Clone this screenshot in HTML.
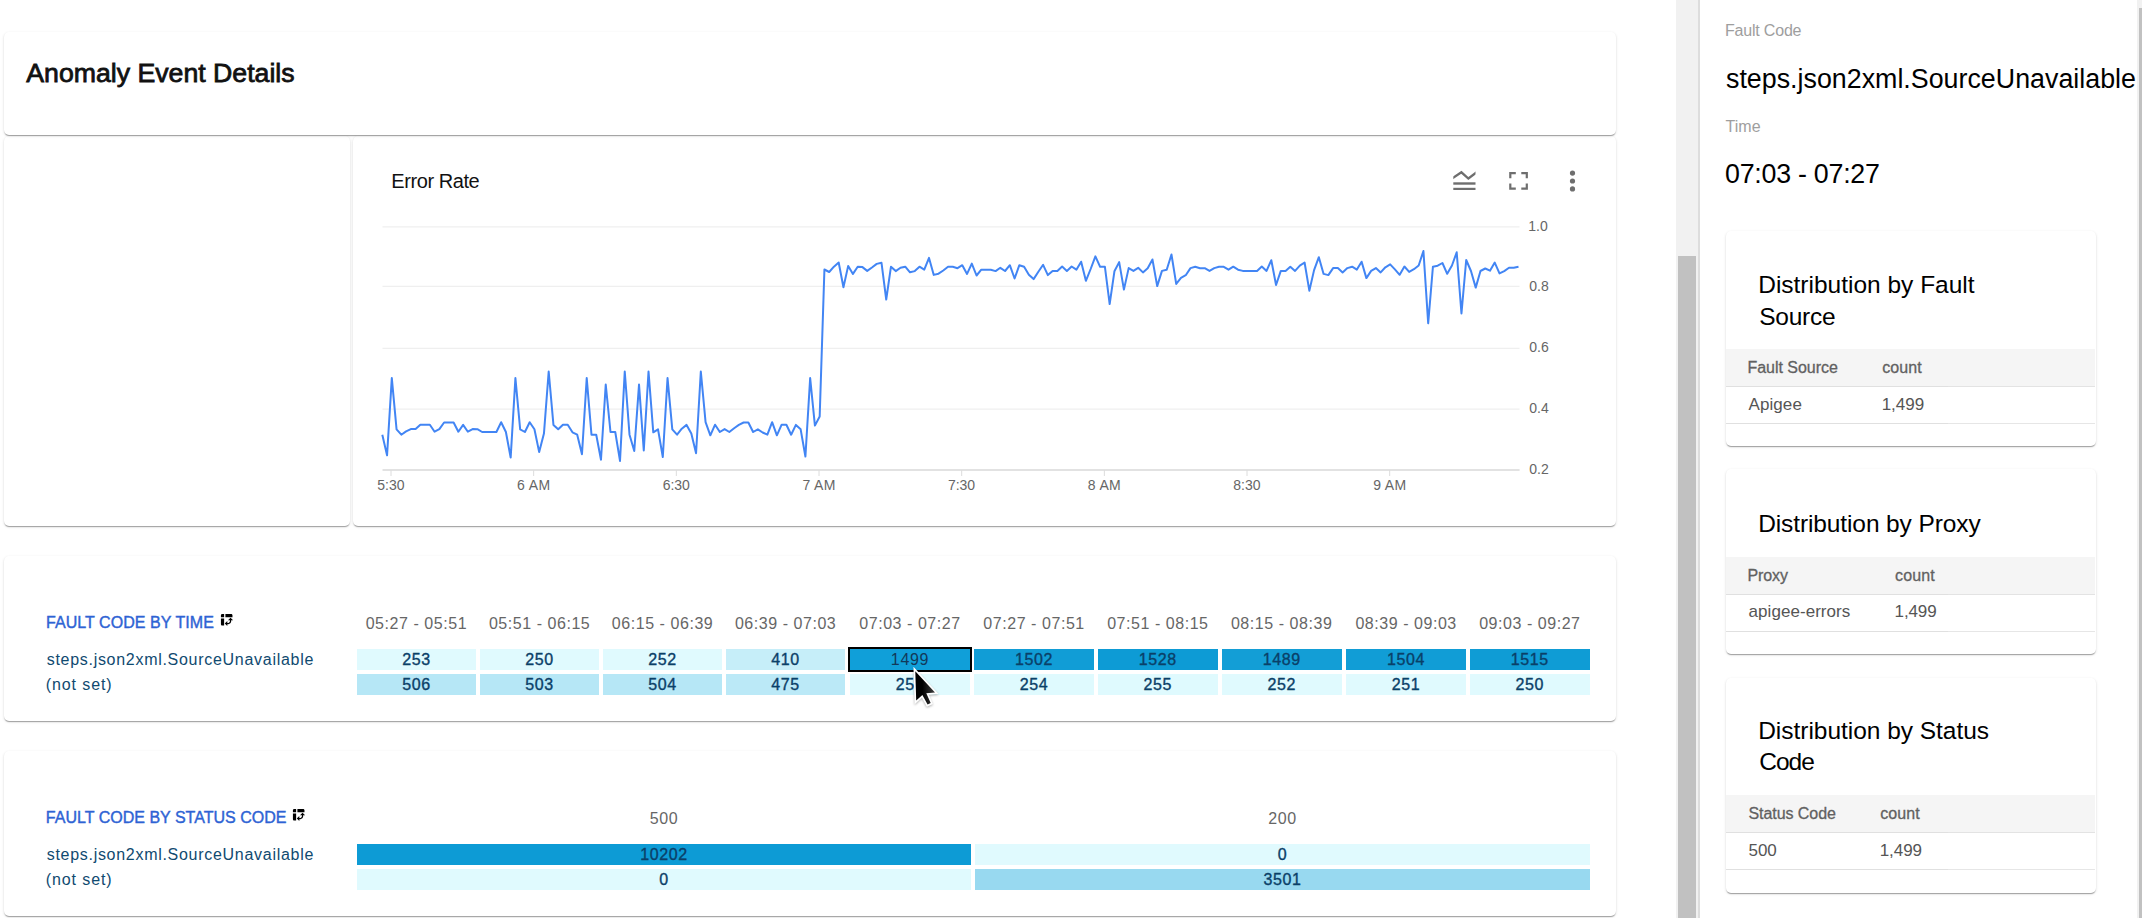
<!DOCTYPE html>
<html><head><meta charset="utf-8"><title>Anomaly Event Details</title><style>
*{box-sizing:border-box;margin:0;padding:0}
html,body{width:2142px;height:918px;overflow:hidden;background:#fff}
body{position:relative;font-family:"Liberation Sans",sans-serif;color:#000}
.t{position:absolute;white-space:pre}
.card{position:absolute;background:#fff;border-radius:5px;box-shadow:0 2px 1px -1px rgba(0,0,0,.2),0 1px 1px 0 rgba(0,0,0,.14),0 1px 3px 0 rgba(0,0,0,.12)}
svg{position:absolute;left:0;top:0}
</style></head>
<body>
<div class="card" style="left:4px;top:136px;width:346px;height:390px;"></div>
<div class="card" style="left:353px;top:136px;width:1263px;height:390px;"></div>
<div class="card" style="left:4px;top:32px;width:1612px;height:103px;"></div>
<div class="card" style="left:4px;top:556px;width:1612px;height:165px;"></div>
<div class="card" style="left:4px;top:751px;width:1612px;height:165px;"></div>
<div class="t" style="left:26.30px;top:60px;font-size:26.7px;line-height:26.7px;color:#111;letter-spacing:-0.007px;-webkit-text-stroke:0.8px #111;">Anomaly Event Details</div>
<div class="t" style="left:391.30px;top:171px;font-size:20px;line-height:20px;color:#111;letter-spacing:-0.425px;">Error Rate</div>
<svg width="2142" height="918" viewBox="0 0 2142 918">
<defs><clipPath id="zz"><rect x="1453.3" y="165" width="22.2" height="20"/></clipPath></defs>
<g fill="none" stroke="#6e6e6e" stroke-width="2.3" stroke-linejoin="miter" stroke-linecap="butt" clip-path="url(#zz)">
<polyline points="1450.5,179.5 1461.4,172.3 1468.4,178.5 1478.4,171"/>
</g>
<g fill="#6e6e6e">
<rect x="1453.3" y="182.3" width="22.2" height="2.4"/>
<rect x="1453.3" y="187.8" width="22.2" height="2.2"/>
<path d="M1509.2 172h6.6v2.2h-4.4v4h-2.2z M1527.9 172h-6.6v2.2h4.4v4h2.2z M1509.2 189.8h6.6v-2.2h-4.4v-4h-2.2z M1527.9 189.8h-6.6v-2.2h4.4v-4h2.2z"/>
<circle cx="1572.5" cy="173.1" r="2.6"/><circle cx="1572.5" cy="181" r="2.6"/><circle cx="1572.5" cy="188.9" r="2.6"/>
</g>
</svg>
<svg width="2142" height="918" viewBox="0 0 2142 918">
<line x1="382.5" y1="226.9" x2="1519.5" y2="226.9" stroke="#ebebeb" stroke-width="1"/><line x1="382.5" y1="286.3" x2="1519.5" y2="286.3" stroke="#ebebeb" stroke-width="1"/><line x1="382.5" y1="348.3" x2="1519.5" y2="348.3" stroke="#ebebeb" stroke-width="1"/><line x1="382.5" y1="409.1" x2="1519.5" y2="409.1" stroke="#ebebeb" stroke-width="1"/>
<line x1="382.5" y1="469.9" x2="1519.6" y2="469.9" stroke="#d9d9d9" stroke-width="1.5"/>
<line x1="391.0" y1="470" x2="391.0" y2="476" stroke="#dcdcdc" stroke-width="1"/><line x1="533.67" y1="470" x2="533.67" y2="476" stroke="#dcdcdc" stroke-width="1"/><line x1="676.34" y1="470" x2="676.34" y2="476" stroke="#dcdcdc" stroke-width="1"/><line x1="819.01" y1="470" x2="819.01" y2="476" stroke="#dcdcdc" stroke-width="1"/><line x1="961.68" y1="470" x2="961.68" y2="476" stroke="#dcdcdc" stroke-width="1"/><line x1="1104.35" y1="470" x2="1104.35" y2="476" stroke="#dcdcdc" stroke-width="1"/><line x1="1247.02" y1="470" x2="1247.02" y2="476" stroke="#dcdcdc" stroke-width="1"/><line x1="1389.69" y1="470" x2="1389.69" y2="476" stroke="#dcdcdc" stroke-width="1"/>
<polyline points="382.30,434.7 387.05,455.4 391.81,378.1 396.56,429.3 401.32,434.7 406.07,431.4 410.82,429.1 415.58,429.1 420.33,424.7 425.09,424.7 429.84,424.7 434.59,431.7 439.35,429.1 444.10,422.5 448.86,422.5 453.61,422.5 458.36,431.7 463.12,424.9 467.87,431.7 472.63,429.1 477.38,429.2 482.13,432 486.89,432 491.64,432 496.40,432 501.15,422.2 505.90,432 510.66,457.6 515.41,378.1 520.17,429.3 524.92,432 529.67,422.2 534.43,429.3 539.18,452.1 543.94,433.6 548.69,371.5 553.44,424.9 558.20,429.3 562.95,424.7 567.71,424.7 572.46,432.3 577.21,434.7 581.97,454.3 586.72,378.1 591.48,434.7 596.23,434.7 600.98,459.8 605.74,384.6 610.49,432 615.25,432 620.00,460.9 624.75,371.5 629.51,434.7 634.26,451 639.02,384.6 643.77,450.5 648.52,371.5 653.28,432.3 658.03,429.3 662.79,457 667.54,378.1 672.29,429.3 677.05,434.7 681.80,428.7 686.56,424.9 691.31,433.6 696.06,453.2 700.82,371.5 705.57,422.2 710.33,435.3 715.08,424.7 719.83,432 724.59,429.1 729.34,432 734.10,428.2 738.85,424.9 743.60,422.5 748.36,422.5 753.11,432 757.87,429.3 762.62,432.5 767.37,434.7 772.13,422.2 776.88,435.3 781.64,424.7 786.39,424.7 791.14,434.7 795.90,424.9 800.65,429.3 805.41,456.5 810.16,378.1 814.91,425.6 819.67,416.5 824.42,269.5 829.18,272 833.93,266.7 838.68,262.5 843.44,287.3 848.19,265.9 852.95,273.9 857.70,266.8 862.45,267.1 867.21,270.9 871.96,267.5 876.72,263.9 881.47,262.7 886.22,299.5 890.98,266.7 895.73,271.1 900.49,267.8 905.24,266.7 909.99,272.3 914.75,271.1 919.50,266.7 924.26,269.6 929.01,257.9 933.76,274.9 938.52,273.7 943.27,270.5 948.03,266.8 952.78,266.8 957.53,268.2 962.29,265.2 967.04,273.9 971.80,263.6 976.55,275.5 981.30,269.7 986.06,269.7 990.81,269.7 995.57,271.1 1000.32,267.8 1005.07,271.0 1009.83,265.2 1014.58,278.5 1019.34,265.2 1024.09,266.7 1028.84,274.7 1033.60,279.1 1038.35,271.7 1043.11,264.8 1047.86,275.1 1052.61,270.9 1057.37,270.9 1062.12,266.5 1066.88,270.9 1071.63,266.5 1076.38,269.7 1081.14,261.7 1085.89,280.8 1090.65,269 1095.40,256.4 1100.15,266.8 1104.91,266.8 1109.66,304.1 1114.42,271.3 1119.17,262.1 1123.92,289.6 1128.68,268.1 1133.43,270.9 1138.19,267.8 1142.94,272.4 1147.69,268.2 1152.45,259.5 1157.20,286.1 1161.96,270.9 1166.71,269.7 1171.46,254.5 1176.22,283.9 1180.97,277.8 1185.73,275.2 1190.48,268.1 1195.23,266.8 1199.99,268.2 1204.74,268.2 1209.50,270.9 1214.25,268.1 1219.00,266.8 1223.76,266.8 1228.51,269.7 1233.27,266.7 1238.02,269.7 1242.77,270.9 1247.53,270.9 1252.28,270.9 1257.04,270.9 1261.79,266.5 1266.54,270.9 1271.30,260.2 1276.05,285 1280.81,270.9 1285.56,270.9 1290.31,266.7 1295.07,270.9 1299.82,265.6 1304.58,262.5 1309.33,290.7 1314.08,270.1 1318.84,257.2 1323.59,273.9 1328.35,275.1 1333.10,268.1 1337.85,268.1 1342.61,272.4 1347.36,268.1 1352.12,266.7 1356.87,269.6 1361.62,261.7 1366.38,278.1 1371.13,270.9 1375.89,268.1 1380.64,272.4 1385.39,267.3 1390.15,264.4 1394.90,269.4 1399.66,274.8 1404.41,266.5 1409.16,271.9 1413.92,269.2 1418.67,265.5 1423.43,251 1428.18,323.3 1432.93,266.7 1437.69,265.7 1442.44,263 1447.20,273.8 1451.95,265.5 1456.70,252.3 1461.46,313.5 1466.21,260 1470.97,271 1475.72,287.6 1480.47,271 1485.23,268.5 1489.98,270.7 1494.74,262.6 1499.49,273.4 1504.24,271.1 1509.00,267.8 1513.75,267.8 1518.51,266.8" fill="none" stroke="#4285f4" stroke-width="2" stroke-linejoin="round"/>
</svg>
<div class="t" style="left:1528.30px;top:219px;font-size:14px;line-height:14px;color:#666;">1.0</div>
<div class="t" style="left:1529.30px;top:279px;font-size:14px;line-height:14px;color:#666;">0.8</div>
<div class="t" style="left:1529.30px;top:340px;font-size:14px;line-height:14px;color:#666;">0.6</div>
<div class="t" style="left:1529.30px;top:401px;font-size:14px;line-height:14px;color:#666;">0.4</div>
<div class="t" style="left:1529.30px;top:462px;font-size:14px;line-height:14px;color:#666;">0.2</div>
<div class="t" style="left:377.30px;top:478px;font-size:14px;line-height:14px;color:#666;letter-spacing:-0.021px;">5:30</div>
<div class="t" style="left:517.12px;top:478px;font-size:14px;line-height:14px;color:#666;letter-spacing:0.362px;">6 AM</div>
<div class="t" style="left:662.64px;top:478px;font-size:14px;line-height:14px;color:#666;letter-spacing:-0.021px;">6:30</div>
<div class="t" style="left:802.46px;top:478px;font-size:14px;line-height:14px;color:#666;letter-spacing:0.362px;">7 AM</div>
<div class="t" style="left:947.98px;top:478px;font-size:14px;line-height:14px;color:#666;letter-spacing:-0.021px;">7:30</div>
<div class="t" style="left:1087.80px;top:478px;font-size:14px;line-height:14px;color:#666;letter-spacing:0.362px;">8 AM</div>
<div class="t" style="left:1233.32px;top:478px;font-size:14px;line-height:14px;color:#666;letter-spacing:-0.021px;">8:30</div>
<div class="t" style="left:1373.14px;top:478px;font-size:14px;line-height:14px;color:#666;letter-spacing:0.362px;">9 AM</div>
<div class="t" style="left:46.00px;top:615px;font-size:16px;line-height:16px;color:#2e63d4;letter-spacing:0.056px;-webkit-text-stroke:0.4px #2e63d4;">FAULT CODE BY TIME</div>
<svg style="left:219.1px;top:612px" width="15.4" height="15.4" viewBox="0 0 24 24"><path fill="#000" d="M10 8h11V5c0-1.1-.9-2-2-2h-9v5zM3 8h5V3H5c-1.1 0-2 .9-2 2v3zm2 13h3V10H3v9c0 1.1.9 2 2 2zm8 1l-4-4 4-4zm1-9l4-4 4 4zm.58 6H13v-2h1.58c1.33 0 2.42-1.08 2.42-2.42V13h2v1.58c0 2.44-1.98 4.42-4.42 4.42z"/></svg>
<div class="t" style="left:46.70px;top:652px;font-size:16px;line-height:16px;color:#104a70;letter-spacing:0.711px;">steps.json2xml.SourceUnavailable</div>
<div class="t" style="left:45.70px;top:677px;font-size:16px;line-height:16px;color:#104a70;letter-spacing:0.905px;">(not set)</div>
<div class="t" style="left:365.68px;top:616px;font-size:16px;line-height:16px;color:#666;letter-spacing:0.550px;">05:27 - 05:51</div>
<div style="position:absolute;left:356.90px;top:649.20px;width:119.00px;height:20.70px;background:#e0fafe;"></div>
<div class="t" style="left:402.15px;top:652px;font-size:16px;line-height:16px;color:#0a4068;letter-spacing:0.600px;-webkit-text-stroke:0.35px #0a4068;">253</div>
<div style="position:absolute;left:356.90px;top:674.10px;width:119.00px;height:20.70px;background:#b6e7f6;"></div>
<div class="t" style="left:402.15px;top:677px;font-size:16px;line-height:16px;color:#0a4068;letter-spacing:0.600px;-webkit-text-stroke:0.35px #0a4068;">506</div>
<div class="t" style="left:488.88px;top:616px;font-size:16px;line-height:16px;color:#666;letter-spacing:0.550px;">05:51 - 06:15</div>
<div style="position:absolute;left:480.10px;top:649.20px;width:119.00px;height:20.70px;background:#e0fafe;"></div>
<div class="t" style="left:525.35px;top:652px;font-size:16px;line-height:16px;color:#0a4068;letter-spacing:0.600px;-webkit-text-stroke:0.35px #0a4068;">250</div>
<div style="position:absolute;left:480.10px;top:674.10px;width:119.00px;height:20.70px;background:#b6e7f6;"></div>
<div class="t" style="left:525.35px;top:677px;font-size:16px;line-height:16px;color:#0a4068;letter-spacing:0.600px;-webkit-text-stroke:0.35px #0a4068;">503</div>
<div class="t" style="left:611.83px;top:616px;font-size:16px;line-height:16px;color:#666;letter-spacing:0.550px;">06:15 - 06:39</div>
<div style="position:absolute;left:603.10px;top:649.20px;width:118.90px;height:20.70px;background:#e0fafe;"></div>
<div class="t" style="left:648.30px;top:652px;font-size:16px;line-height:16px;color:#0a4068;letter-spacing:0.600px;-webkit-text-stroke:0.35px #0a4068;">252</div>
<div style="position:absolute;left:603.10px;top:674.10px;width:118.90px;height:20.70px;background:#b6e7f6;"></div>
<div class="t" style="left:648.30px;top:677px;font-size:16px;line-height:16px;color:#0a4068;letter-spacing:0.600px;-webkit-text-stroke:0.35px #0a4068;">504</div>
<div class="t" style="left:734.88px;top:616px;font-size:16px;line-height:16px;color:#666;letter-spacing:0.550px;">06:39 - 07:03</div>
<div style="position:absolute;left:726.00px;top:649.20px;width:119.20px;height:20.70px;background:#c6eef9;"></div>
<div class="t" style="left:771.35px;top:652px;font-size:16px;line-height:16px;color:#0a4068;letter-spacing:0.600px;-webkit-text-stroke:0.35px #0a4068;">410</div>
<div style="position:absolute;left:726.00px;top:674.10px;width:119.20px;height:20.70px;background:#bbe9f7;"></div>
<div class="t" style="left:771.35px;top:677px;font-size:16px;line-height:16px;color:#0a4068;letter-spacing:0.600px;-webkit-text-stroke:0.35px #0a4068;">475</div>
<div class="t" style="left:859.28px;top:616px;font-size:16px;line-height:16px;color:#666;letter-spacing:0.550px;">07:03 - 07:27</div>
<div style="position:absolute;left:848.20px;top:647.00px;width:123.70px;height:25.00px;background:#109fd9;border:2px solid #000;"></div>
<div class="t" style="left:890.80px;top:652px;font-size:16px;line-height:16px;color:#12395a;letter-spacing:0.700px;">1499</div>
<div style="position:absolute;left:850.00px;top:674.10px;width:120.00px;height:20.70px;background:#e0fafe;"></div>
<div class="t" style="left:895.75px;top:677px;font-size:16px;line-height:16px;color:#0a4068;letter-spacing:0.600px;-webkit-text-stroke:0.35px #0a4068;">251</div>
<div class="t" style="left:983.33px;top:616px;font-size:16px;line-height:16px;color:#666;letter-spacing:0.550px;">07:27 - 07:51</div>
<div style="position:absolute;left:974.10px;top:649.20px;width:119.90px;height:20.70px;background:#119dd6;"></div>
<div class="t" style="left:1015.05px;top:652px;font-size:16px;line-height:16px;color:#0a4068;letter-spacing:0.600px;-webkit-text-stroke:0.35px #0a4068;">1502</div>
<div style="position:absolute;left:974.10px;top:674.10px;width:119.90px;height:20.70px;background:#dffafe;"></div>
<div class="t" style="left:1019.80px;top:677px;font-size:16px;line-height:16px;color:#0a4068;letter-spacing:0.600px;-webkit-text-stroke:0.35px #0a4068;">254</div>
<div class="t" style="left:1107.13px;top:616px;font-size:16px;line-height:16px;color:#666;letter-spacing:0.550px;">07:51 - 08:15</div>
<div style="position:absolute;left:1097.90px;top:649.20px;width:119.90px;height:20.70px;background:#0d9bd5;"></div>
<div class="t" style="left:1138.85px;top:652px;font-size:16px;line-height:16px;color:#0a4068;letter-spacing:0.600px;-webkit-text-stroke:0.35px #0a4068;">1528</div>
<div style="position:absolute;left:1097.90px;top:674.10px;width:119.90px;height:20.70px;background:#dffafe;"></div>
<div class="t" style="left:1143.60px;top:677px;font-size:16px;line-height:16px;color:#0a4068;letter-spacing:0.600px;-webkit-text-stroke:0.35px #0a4068;">255</div>
<div class="t" style="left:1230.93px;top:616px;font-size:16px;line-height:16px;color:#666;letter-spacing:0.550px;">08:15 - 08:39</div>
<div style="position:absolute;left:1221.70px;top:649.20px;width:119.90px;height:20.70px;background:#139ed6;"></div>
<div class="t" style="left:1262.65px;top:652px;font-size:16px;line-height:16px;color:#0a4068;letter-spacing:0.600px;-webkit-text-stroke:0.35px #0a4068;">1489</div>
<div style="position:absolute;left:1221.70px;top:674.10px;width:119.90px;height:20.70px;background:#e0fafe;"></div>
<div class="t" style="left:1267.40px;top:677px;font-size:16px;line-height:16px;color:#0a4068;letter-spacing:0.600px;-webkit-text-stroke:0.35px #0a4068;">252</div>
<div class="t" style="left:1355.38px;top:616px;font-size:16px;line-height:16px;color:#666;letter-spacing:0.550px;">08:39 - 09:03</div>
<div style="position:absolute;left:1346.00px;top:649.20px;width:120.20px;height:20.70px;background:#119dd6;"></div>
<div class="t" style="left:1387.10px;top:652px;font-size:16px;line-height:16px;color:#0a4068;letter-spacing:0.600px;-webkit-text-stroke:0.35px #0a4068;">1504</div>
<div style="position:absolute;left:1346.00px;top:674.10px;width:120.20px;height:20.70px;background:#e0fafe;"></div>
<div class="t" style="left:1391.85px;top:677px;font-size:16px;line-height:16px;color:#0a4068;letter-spacing:0.600px;-webkit-text-stroke:0.35px #0a4068;">251</div>
<div class="t" style="left:1479.13px;top:616px;font-size:16px;line-height:16px;color:#666;letter-spacing:0.550px;">09:03 - 09:27</div>
<div style="position:absolute;left:1469.80px;top:649.20px;width:120.10px;height:20.70px;background:#0f9cd5;"></div>
<div class="t" style="left:1510.85px;top:652px;font-size:16px;line-height:16px;color:#0a4068;letter-spacing:0.600px;-webkit-text-stroke:0.35px #0a4068;">1515</div>
<div style="position:absolute;left:1469.80px;top:674.10px;width:120.10px;height:20.70px;background:#e0fafe;"></div>
<div class="t" style="left:1515.60px;top:677px;font-size:16px;line-height:16px;color:#0a4068;letter-spacing:0.600px;-webkit-text-stroke:0.35px #0a4068;">250</div>
<div class="t" style="left:45.80px;top:810px;font-size:16px;line-height:16px;color:#2e63d4;letter-spacing:0.015px;-webkit-text-stroke:0.4px #2e63d4;">FAULT CODE BY STATUS CODE</div>
<svg style="left:291.1px;top:807.3px" width="15.4" height="15.4" viewBox="0 0 24 24"><path fill="#000" d="M10 8h11V5c0-1.1-.9-2-2-2h-9v5zM3 8h5V3H5c-1.1 0-2 .9-2 2v3zm2 13h3V10H3v9c0 1.1.9 2 2 2zm8 1l-4-4 4-4zm1-9l4-4 4 4zm.58 6H13v-2h1.58c1.33 0 2.42-1.08 2.42-2.42V13h2v1.58c0 2.44-1.98 4.42-4.42 4.42z"/></svg>
<div class="t" style="left:46.70px;top:847px;font-size:16px;line-height:16px;color:#104a70;letter-spacing:0.711px;">steps.json2xml.SourceUnavailable</div>
<div class="t" style="left:45.70px;top:872px;font-size:16px;line-height:16px;color:#104a70;letter-spacing:0.905px;">(not set)</div>
<div class="t" style="left:649.83px;top:811px;font-size:16px;line-height:16px;color:#666;letter-spacing:0.550px;">500</div>
<div style="position:absolute;left:357.00px;top:843.90px;width:614.00px;height:21.00px;background:#0d9bd5;"></div>
<div class="t" style="left:640.25px;top:847px;font-size:16px;line-height:16px;color:#0a4068;letter-spacing:0.600px;-webkit-text-stroke:0.35px #0a4068;">10202</div>
<div style="position:absolute;left:357.00px;top:868.80px;width:614.00px;height:21.00px;background:#e0fafe;"></div>
<div class="t" style="left:659.25px;top:872px;font-size:16px;line-height:16px;color:#0a4068;letter-spacing:0.600px;-webkit-text-stroke:0.35px #0a4068;">0</div>
<div class="t" style="left:1268.33px;top:811px;font-size:16px;line-height:16px;color:#666;letter-spacing:0.550px;">200</div>
<div style="position:absolute;left:975.00px;top:843.90px;width:615.00px;height:21.00px;background:#e0fafe;"></div>
<div class="t" style="left:1277.75px;top:847px;font-size:16px;line-height:16px;color:#0a4068;letter-spacing:0.600px;-webkit-text-stroke:0.35px #0a4068;">0</div>
<div style="position:absolute;left:975.00px;top:868.80px;width:615.00px;height:21.00px;background:#98d9f0;"></div>
<div class="t" style="left:1263.50px;top:872px;font-size:16px;line-height:16px;color:#0a4068;letter-spacing:0.600px;-webkit-text-stroke:0.35px #0a4068;">3501</div>
<div style="position:absolute;left:1676.00px;top:0.00px;width:22.00px;height:918.00px;background:#f1f1f1;"></div>
<div style="position:absolute;left:1678.00px;top:256.00px;width:18.00px;height:662.00px;background:#c1c1c1;"></div>
<div style="position:absolute;left:1698.00px;top:0.00px;width:2.00px;height:918.00px;background:#dddddd;"></div>
<div style="position:absolute;left:2137.00px;top:0.00px;width:5.00px;height:918.00px;background:#f1f1f1;"></div>
<div style="position:absolute;left:2139.00px;top:8.00px;width:3.00px;height:910.00px;background:#c1c1c1;"></div>
<div class="t" style="left:1725.00px;top:23px;font-size:16px;line-height:16px;color:#9e9e9e;letter-spacing:-0.196px;">Fault Code</div>
<div class="t" style="left:1726.00px;top:66px;font-size:26.8px;line-height:26.8px;color:#000;letter-spacing:0.010px;">steps.json2xml.SourceUnavailable</div>
<div class="t" style="left:1725.60px;top:119px;font-size:16px;line-height:16px;color:#9e9e9e;">Time</div>
<div class="t" style="left:1725.00px;top:161px;font-size:26.8px;line-height:26.8px;color:#000;letter-spacing:-0.252px;">07:03 - 07:27</div>
<div class="card" style="left:1726px;top:231px;width:370px;height:215px;"></div>
<div class="t" style="left:1758.20px;top:273px;font-size:24.5px;line-height:24.5px;color:#000;letter-spacing:-0.005px;">Distribution by Fault</div>
<div class="t" style="left:1759.20px;top:305px;font-size:24.5px;line-height:24.5px;color:#000;letter-spacing:-0.220px;">Source</div>
<div style="position:absolute;left:1726.00px;top:349.00px;width:368.70px;height:37.40px;background:#f5f5f5;"></div>
<div style="position:absolute;left:1726.00px;top:385.90px;width:222.00px;height:1.00px;background:#e0e0e0;"></div>
<div style="position:absolute;left:1948.00px;top:386.10px;width:146.70px;height:1.00px;background:#e3e3e3;"></div>
<div style="position:absolute;left:1726.00px;top:422.50px;width:222.00px;height:1.00px;background:#e0e0e0;"></div>
<div style="position:absolute;left:1948.00px;top:422.50px;width:146.70px;height:1.00px;background:#e6e6e6;"></div>
<div class="t" style="left:1747.50px;top:360px;font-size:16px;line-height:16px;color:#616161;letter-spacing:-0.037px;-webkit-text-stroke:0.3px #616161;">Fault Source</div>
<div class="t" style="left:1882.20px;top:360px;font-size:16px;line-height:16px;color:#616161;letter-spacing:0.076px;-webkit-text-stroke:0.3px #616161;">count</div>
<div class="t" style="left:1748.60px;top:396px;font-size:17px;line-height:17px;color:#555;letter-spacing:0.064px;">Apigee</div>
<div class="t" style="left:1881.70px;top:396px;font-size:17px;line-height:17px;color:#555;letter-spacing:-0.022px;">1,499</div>
<div class="card" style="left:1726px;top:469px;width:370px;height:185px;"></div>
<div class="t" style="left:1758.20px;top:512px;font-size:24.5px;line-height:24.5px;color:#000;letter-spacing:-0.111px;">Distribution by Proxy</div>
<div style="position:absolute;left:1726.00px;top:556.80px;width:368.70px;height:37.50px;background:#f5f5f5;"></div>
<div style="position:absolute;left:1726.00px;top:593.80px;width:222.00px;height:1.00px;background:#e0e0e0;"></div>
<div style="position:absolute;left:1948.00px;top:594.00px;width:146.70px;height:1.00px;background:#e3e3e3;"></div>
<div style="position:absolute;left:1726.00px;top:631.00px;width:222.00px;height:1.00px;background:#e0e0e0;"></div>
<div style="position:absolute;left:1948.00px;top:631.00px;width:146.70px;height:1.00px;background:#e6e6e6;"></div>
<div class="t" style="left:1747.50px;top:568px;font-size:16px;line-height:16px;color:#616161;letter-spacing:-0.125px;-webkit-text-stroke:0.3px #616161;">Proxy</div>
<div class="t" style="left:1895.10px;top:568px;font-size:16px;line-height:16px;color:#616161;letter-spacing:0.101px;-webkit-text-stroke:0.3px #616161;">count</div>
<div class="t" style="left:1748.60px;top:603px;font-size:17px;line-height:17px;color:#555;letter-spacing:0.050px;">apigee-errors</div>
<div class="t" style="left:1894.60px;top:603px;font-size:17px;line-height:17px;color:#555;letter-spacing:-0.122px;">1,499</div>
<div class="card" style="left:1726px;top:677.6px;width:370px;height:215px;"></div>
<div class="t" style="left:1758.20px;top:719px;font-size:24.5px;line-height:24.5px;color:#000;letter-spacing:-0.031px;">Distribution by Status</div>
<div class="t" style="left:1759.20px;top:750px;font-size:24.5px;line-height:24.5px;color:#000;letter-spacing:-0.982px;">Code</div>
<div style="position:absolute;left:1726.00px;top:795.10px;width:368.70px;height:37.20px;background:#f5f5f5;"></div>
<div style="position:absolute;left:1726.00px;top:831.80px;width:222.00px;height:1.00px;background:#e0e0e0;"></div>
<div style="position:absolute;left:1948.00px;top:832.00px;width:146.70px;height:1.00px;background:#e3e3e3;"></div>
<div style="position:absolute;left:1726.00px;top:868.80px;width:222.00px;height:1.00px;background:#e0e0e0;"></div>
<div style="position:absolute;left:1948.00px;top:868.80px;width:146.70px;height:1.00px;background:#e6e6e6;"></div>
<div class="t" style="left:1748.50px;top:806px;font-size:16px;line-height:16px;color:#616161;letter-spacing:-0.066px;-webkit-text-stroke:0.3px #616161;">Status Code</div>
<div class="t" style="left:1880.20px;top:806px;font-size:16px;line-height:16px;color:#616161;letter-spacing:0.101px;-webkit-text-stroke:0.3px #616161;">count</div>
<div class="t" style="left:1748.60px;top:842px;font-size:17px;line-height:17px;color:#555;letter-spacing:-0.105px;">500</div>
<div class="t" style="left:1879.70px;top:842px;font-size:17px;line-height:17px;color:#555;letter-spacing:-0.047px;">1,499</div>
<svg width="2142" height="918" viewBox="0 0 2142 918">
<defs><linearGradient id="cg" gradientUnits="userSpaceOnUse" x1="916" y1="0" x2="934" y2="0"><stop offset="0.35" stop-color="#000"/><stop offset="1" stop-color="#3a3a3a"/></linearGradient></defs>
<path d="M915.3 671.3 L916.2 700.6 L922.4 694.9 L927.6 704.6 L930.7 703.1 L926.3 693.3 L935 692.5 Z" fill="url(#cg)" stroke="#fff" stroke-width="3.4" stroke-linejoin="miter" stroke-miterlimit="10" paint-order="stroke" style="filter:drop-shadow(0.6px 1.2px 1px rgba(0,0,0,.3))"/>
</svg>
</body></html>
